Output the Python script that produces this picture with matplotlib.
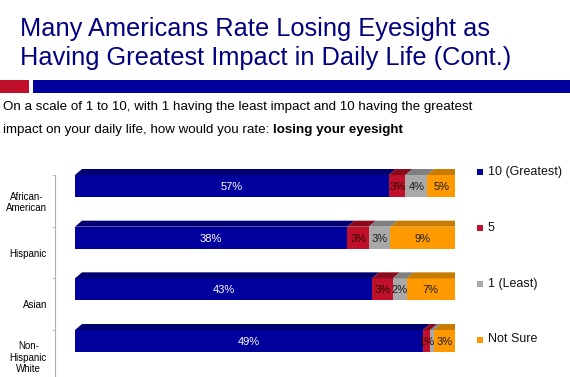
import numpy as np
import matplotlib
matplotlib.use('Agg')
import matplotlib.pyplot as plt
from matplotlib.patches import Rectangle, Polygon

plt.rcParams['font.family'] = ['Liberation Sans', 'DejaVu Sans']

# data
groups = ['African-\nAmerican', 'Hispanic', 'Asian', 'Non-\nHispanic\nWhite']
series = ['10 (Greatest)', '5', '1 (Least)', 'Not Sure']
greatest = [57, 38, 43, 49]
five = [3, 3, 3, 1]
least = [4, 3, 2, 0.5]
not_sure = [5, 9, 7, 3]

front = ['#00009c', '#c0102c', '#a9a9a9', '#ff9900']
dark = ['#000070', '#8a0a1c', '#7f7f7f', '#c77c00']
txt_col = ['white', '#2a0000', '#1a1a1a', '#1a1a1a']

W, H = 570, 377
PT = 72 / 100  # points per pixel
fig = plt.figure(figsize=(W / 100, H / 100), dpi=100)

# header
fig.text(20 / W, 1 - 36 / H, 'Many Americans Rate Losing Eyesight as',
         fontsize=18.3, color='#000080', va='baseline')
fig.text(20 / W, 1 - 65 / H, 'Having Greatest Impact in Daily Life (Cont.)',
         fontsize=18.3, color='#000080', va='baseline')
fig.add_artist(Rectangle((0, 1 - 93 / H), 29 / W, 13 / H, transform=fig.transFigure,
                         color='#c0102c', lw=0))
fig.add_artist(Rectangle((33 / W, 1 - 93 / H), 1 - 33 / W, 13 / H, transform=fig.transFigure,
                         color='#00009c', lw=0))
fig.text(3 / W, 1 - 110 / H,
         'On a scale of 1 to 10, with 1 having the least impact and 10 having the greatest',
         fontsize=9.6, va='baseline')
t2 = fig.text(3 / W, 1 - 133 / H, 'impact on your daily life, how would you rate: ',
              fontsize=9.6, va='baseline')
r = fig.canvas.get_renderer()
bb = t2.get_window_extent(r)
fig.text(bb.x1 / W, 1 - 133 / H, 'losing your eyesight', fontsize=9.6,
         fontweight='bold', va='baseline')

# bars
pitch = 51.67
y_top_px = 175
ax = fig.add_axes([75 / W, 0, 380 / W, (H - 160) / H])
ax.set_xlim(0, 1)
ax.set_ylim((H - y_top_px) / pitch - 0.5, (160 - y_top_px) / pitch - 0.5)

vals = np.array([greatest, five, least, not_sure], dtype=float)
share = vals / vals.sum(axis=0)
y = np.arange(len(groups))
bh = 22 / pitch
yc = y - 0.5 + bh / 2
dx = 7 / 380
dy = 6 / pitch

left = np.zeros(len(groups))
for k in range(len(series)):
    ax.barh(yc, share[k], left=left, height=bh, color=front[k], lw=0)
    for i in range(len(groups)):
        x0, x1 = left[i], left[i] + share[k][i]
        top = yc[i] - bh / 2
        ax.add_patch(Polygon([(x0, top), (x1, top), (x1 + dx, top - dy), (x0 + dx, top - dy)],
                             closed=True, color=dark[k], lw=0))
        if k == len(series) - 1:
            bot = yc[i] + bh / 2
            ax.add_patch(Polygon([(x1, top), (x1, bot), (x1 + dx, bot - dy), (x1 + dx, top - dy)],
                                 closed=True, color=dark[k], lw=0))
        if vals[k][i] >= 1:
            ax.text((x0 + x1) / 2, yc[i] + 0.02, f'{vals[k][i]:.0f}%', ha='center', va='center',
                    fontsize=8, color=txt_col[k])
    left += share[k]

for s in ['top', 'right', 'bottom']:
    ax.spines[s].set_visible(False)
ax.spines['left'].set_position(('outward', 20 * PT))
ax.spines['left'].set_color('#b0b0b0')
ax.spines['left'].set_bounds(-0.5, 4)
ax.set_xticks([])
ax.set_yticks(y)
ax.set_yticklabels(groups, fontsize=7, multialignment='center')
ax.set_yticks(y - 0.5, minor=True)
ax.tick_params(axis='y', which='major', length=0, pad=8 * PT)
ax.tick_params(axis='y', which='minor', length=3 * PT, color='#b0b0b0')
ax.patch.set_alpha(0)

# legend
leg_y = [172, 228, 283.5, 339.5]
for k in range(len(series)):
    fig.add_artist(Rectangle((477 / W, 1 - (leg_y[k] + 3) / H), 6 / W, 6 / H,
                             transform=fig.transFigure, color=front[k], lw=0))
    fig.text(488 / W, 1 - leg_y[k] / H, series[k], fontsize=9, va='center', color='#111111')

fig.savefig('out.png', dpi=100)
